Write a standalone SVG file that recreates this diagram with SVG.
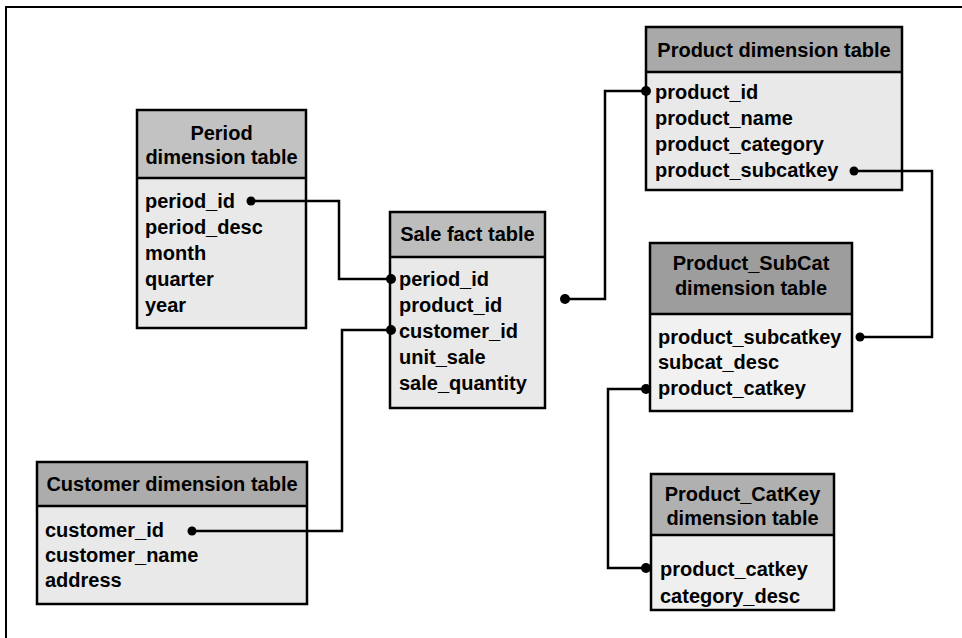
<svg xmlns="http://www.w3.org/2000/svg" width="962" height="638" viewBox="0 0 962 638">
<style>
.box{stroke:#000;stroke-width:2.5}
.sep{stroke:#000;stroke-width:2.5}
.body{fill:#e9e9e9}
.t{font-family:"Liberation Sans",Arial,sans-serif;font-weight:bold;font-size:20px;fill:#000}
.c{text-anchor:middle}
.ln{fill:none;stroke:#000;stroke-width:2.5}
.dot{fill:#000}
</style>
<rect width="962" height="638" fill="#fff"/>
<path d="M6 638 V7 H962" fill="none" stroke="#000" stroke-width="2"/>

<g id="period">
<rect x="137" y="110" width="169" height="218" class="body"/>
<rect x="137" y="110" width="169" height="68" fill="#c2c2c2"/>
<rect x="137" y="110" width="169" height="218" fill="none" class="box"/>
<line x1="137" y1="178" x2="306" y2="178" class="sep"/>
<text x="221.5" y="140" class="t c">Period</text>
<text x="221.5" y="164" class="t c">dimension table</text>
<text x="145" y="208" class="t">period_id</text>
<text x="145" y="234" class="t">period_desc</text>
<text x="145" y="260" class="t">month</text>
<text x="145" y="286" class="t">quarter</text>
<text x="145" y="312" class="t">year</text>
</g>

<g id="sale">
<rect x="390" y="212" width="155" height="196" class="body"/>
<rect x="390" y="212" width="155" height="45" fill="#bdbdbd"/>
<rect x="390" y="212" width="155" height="196" fill="none" class="box"/>
<line x1="390" y1="257" x2="545" y2="257" class="sep"/>
<text x="467.5" y="241" class="t c">Sale fact table</text>
<text x="399" y="286" class="t">period_id</text>
<text x="399" y="312" class="t">product_id</text>
<text x="399" y="338" class="t">customer_id</text>
<text x="399" y="364" class="t">unit_sale</text>
<text x="399" y="390" class="t">sale_quantity</text>
</g>

<g id="product">
<rect x="646" y="27" width="256" height="163" class="body"/>
<rect x="646" y="27" width="256" height="45" fill="#a9a9a9"/>
<rect x="646" y="27" width="256" height="163" fill="none" class="box"/>
<line x1="646" y1="72" x2="902" y2="72" class="sep"/>
<text x="774" y="57" class="t c">Product dimension table</text>
<text x="655" y="99" class="t">product_id</text>
<text x="655" y="125" class="t">product_name</text>
<text x="655" y="151" class="t">product_category</text>
<text x="655" y="177" class="t">product_subcatkey</text>
</g>

<g id="subcat">
<rect x="650" y="243" width="202" height="168" fill="#f1f1f1"/>
<rect x="650" y="243" width="202" height="71" fill="#9d9d9d"/>
<rect x="650" y="243" width="202" height="168" fill="none" class="box"/>
<line x1="650" y1="314" x2="852" y2="314" class="sep"/>
<text x="751" y="270" class="t c">Product_SubCat</text>
<text x="751" y="295" class="t c">dimension table</text>
<text x="658" y="344" class="t">product_subcatkey</text>
<text x="658" y="369" class="t">subcat_desc</text>
<text x="658" y="395" class="t">product_catkey</text>
</g>

<g id="catkey">
<rect x="651" y="474" width="183" height="136" fill="#efefef"/>
<rect x="651" y="474" width="183" height="61" fill="#b0b0b0"/>
<rect x="651" y="474" width="183" height="136" fill="none" class="box"/>
<line x1="651" y1="535" x2="834" y2="535" class="sep"/>
<text x="742.5" y="501" class="t c">Product_CatKey</text>
<text x="742.5" y="525" class="t c">dimension table</text>
<text x="660" y="576" class="t">product_catkey</text>
<text x="660" y="603" class="t">category_desc</text>
</g>

<g id="customer">
<rect x="37" y="462" width="270" height="142" class="body"/>
<rect x="37" y="462" width="270" height="44" fill="#acacac"/>
<rect x="37" y="462" width="270" height="142" fill="none" class="box"/>
<line x1="37" y1="506" x2="307" y2="506" class="sep"/>
<text x="172" y="491" class="t c">Customer dimension table</text>
<text x="45" y="537" class="t">customer_id</text>
<text x="45" y="562" class="t">customer_name</text>
<text x="45" y="587" class="t">address</text>
</g>

<g id="connectors">
<path d="M251 201 H339 V279 H390" class="ln"/>
<circle cx="251" cy="201" r="4.5" class="dot"/>
<circle cx="391" cy="279" r="5" class="dot"/>
<path d="M192 531 H342 V330 H390" class="ln"/>
<circle cx="192" cy="531" r="4.5" class="dot"/>
<circle cx="391" cy="330" r="5" class="dot"/>
<path d="M565 299 H605 V91 H646" class="ln"/>
<circle cx="565" cy="299" r="5" class="dot"/>
<circle cx="646" cy="91" r="5" class="dot"/>
<path d="M854 171 H932 V337 H860" class="ln"/>
<circle cx="854" cy="171" r="4.5" class="dot"/>
<circle cx="860" cy="337" r="4.5" class="dot"/>
<path d="M646 389 H608 V568 H646" class="ln"/>
<circle cx="646" cy="389" r="5" class="dot"/>
<circle cx="646" cy="568" r="5" class="dot"/>
</g>
</svg>
